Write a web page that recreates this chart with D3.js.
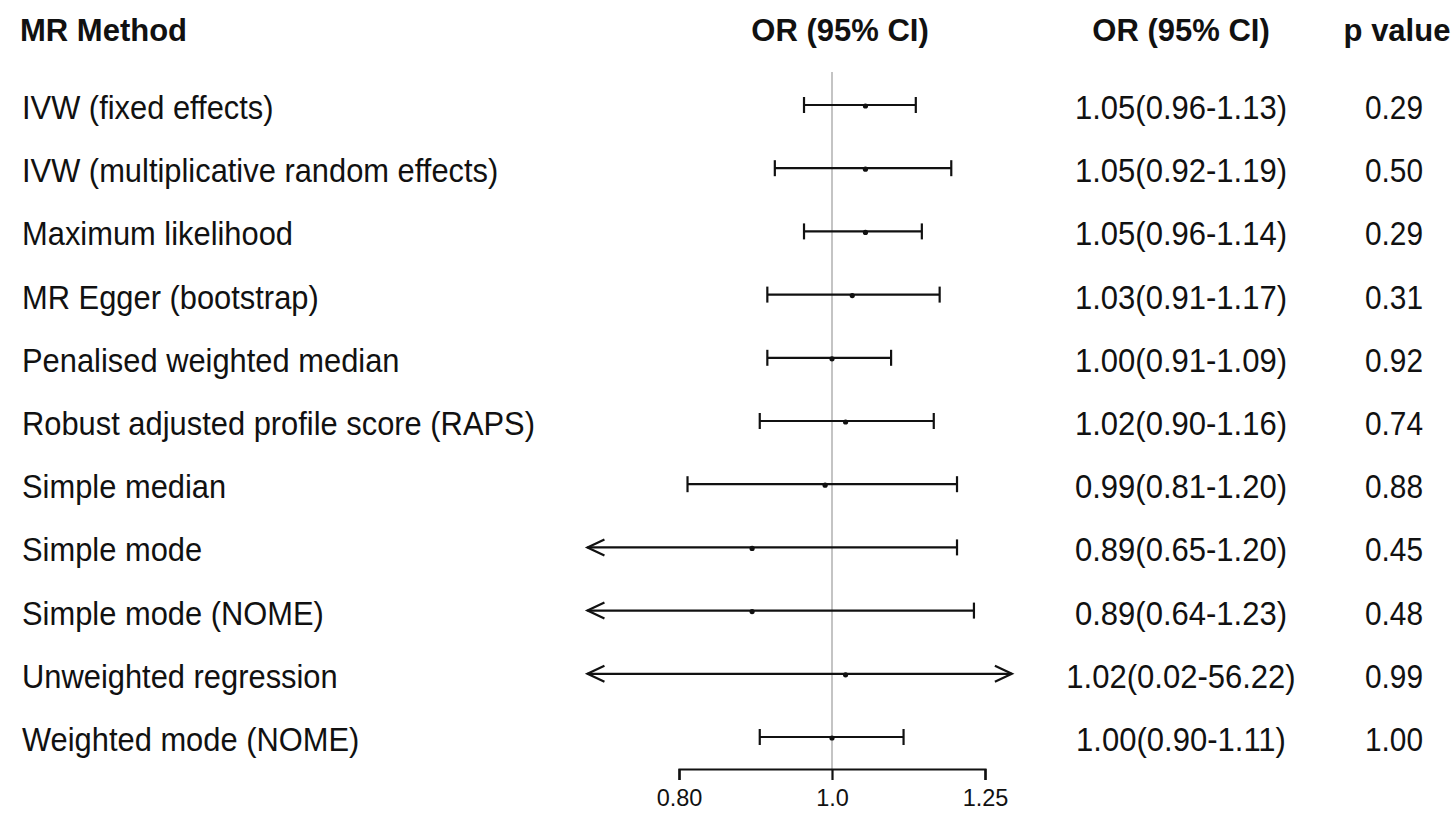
<!DOCTYPE html>
<html>
<head>
<meta charset="utf-8">
<script src="https://cdn.jsdelivr.net/npm/d3@7"></script>
<style>
  html, body { margin: 0; padding: 0; background: #fff; }
  svg { display: block; }
  text { font-family: "Liberation Sans", Arial, sans-serif; fill: #111; }
</style>
</head>
<body>
<svg id="chart" width="1453" height="822"></svg>
<script>
// ---- data ----
const methods = [
  "IVW (fixed effects)",
  "IVW (multiplicative random effects)",
  "Maximum likelihood",
  "MR Egger (bootstrap)",
  "Penalised weighted median",
  "Robust adjusted profile score (RAPS)",
  "Simple median",
  "Simple mode",
  "Simple mode (NOME)",
  "Unweighted regression",
  "Weighted mode (NOME)"
];
const orValues = [1.05, 1.05, 1.05, 1.03, 1.00, 1.02, 0.99, 0.89, 0.89, 1.02, 1.00];
const ciLower  = [0.96, 0.92, 0.96, 0.91, 0.91, 0.90, 0.81, 0.65, 0.64, 0.02, 0.90];
const ciUpper  = [1.13, 1.19, 1.14, 1.17, 1.09, 1.16, 1.20, 1.20, 1.23, 56.22, 1.11];
const orLabels = ["1.05(0.96-1.13)", "1.05(0.92-1.19)", "1.05(0.96-1.14)", "1.03(0.91-1.17)",
  "1.00(0.91-1.09)", "1.02(0.90-1.16)", "0.99(0.81-1.20)", "0.89(0.65-1.20)",
  "0.89(0.64-1.23)", "1.02(0.02-56.22)", "1.00(0.90-1.11)"];
const pValues = ["0.29", "0.50", "0.29", "0.31", "0.92", "0.74", "0.88", "0.45", "0.48", "0.99", "1.00"];
const headers = ["MR Method", "OR (95% CI)", "OR (95% CI)", "p value"];
const tickValues = [0.80, 1.0, 1.25];
const tickLabels = ["0.80", "1.0", "1.25"];
const clipRange = [0.7, 1.3];
const refValue = 1.0;

// ---- layout ----
const svg = d3.select("#chart");
const x = d3.scaleLog().domain([0.80, 1.25]).range([679, 985]);
const y = d3.scalePoint().domain(d3.range(methods.length)).range([105, 737]);
const axisY = 769;
const tr = (px, py, sx) => `translate(${px},${py}) scale(${sx},1)`;

// headers
const headerX = [20, 840, 1181, 1397];
const headerAnchor = ["start", "middle", "middle", "middle"];
svg.selectAll("text.header").data(headers).join("text")
  .attr("class", "header")
  .attr("x", (d, i) => headerX[i])
  .attr("y", 41)
  .attr("text-anchor", (d, i) => headerAnchor[i])
  .attr("font-size", 31)
  .attr("font-weight", "bold")
  .text(d => d);

// reference line
svg.append("line")
  .attr("x1", x(refValue)).attr("x2", x(refValue))
  .attr("y1", 72).attr("y2", axisY)
  .attr("stroke", "#c4c4c4").attr("stroke-width", 2);

// left labels
svg.selectAll("text.method").data(methods).join("text")
  .attr("class", "method")
  .attr("transform", (d, i) => tr(22, y(i) + 14, 0.95))
  .attr("font-size", 32.5)
  .text(d => d);

// OR text
svg.selectAll("text.orl").data(orLabels).join("text")
  .attr("class", "orl")
  .attr("transform", (d, i) => tr(1181, y(i) + 14, 0.955))
  .attr("text-anchor", "middle")
  .attr("font-size", 32.5)
  .text(d => d);

// p values
svg.selectAll("text.pv").data(pValues).join("text")
  .attr("class", "pv")
  .attr("transform", (d, i) => tr(1394, y(i) + 14, 0.89))
  .attr("text-anchor", "middle")
  .attr("font-size", 33.5)
  .text(d => d);

// CI bars
const g = svg.append("g").attr("stroke", "#111").attr("stroke-width", 2.2).attr("fill", "none");
const capH = 8, arrowL = 17, arrowW = 8;
methods.forEach((m, i) => {
  const cy = y(i);
  const lo = Math.max(ciLower[i], clipRange[0]);
  const hi = Math.min(ciUpper[i], clipRange[1]);
  const x1 = x(lo), x2 = x(hi);
  g.append("line").attr("x1", x1).attr("x2", x2).attr("y1", cy).attr("y2", cy);
  if (ciLower[i] < clipRange[0]) {
    g.append("path").attr("d", `M${x1 + arrowL},${cy - arrowW}L${x1},${cy}L${x1 + arrowL},${cy + arrowW}`);
  } else {
    g.append("line").attr("x1", x1).attr("x2", x1).attr("y1", cy - capH).attr("y2", cy + capH);
  }
  if (ciUpper[i] > clipRange[1]) {
    g.append("path").attr("d", `M${x2 - arrowL},${cy - arrowW}L${x2},${cy}L${x2 - arrowL},${cy + arrowW}`);
  } else {
    g.append("line").attr("x1", x2).attr("x2", x2).attr("y1", cy - capH).attr("y2", cy + capH);
  }
});

// points
svg.selectAll("circle.pt").data(orValues).join("circle")
  .attr("class", "pt")
  .attr("cx", d => x(d))
  .attr("cy", (d, i) => y(i) + 1)
  .attr("r", 2.6)
  .attr("fill", "#111");

// axis
const axis = d3.axisBottom(x).tickValues(tickValues).tickFormat((d, i) => tickLabels[i]).tickSizeOuter(0).tickSize(11);
const ax = svg.append("g").attr("transform", `translate(0,${axisY})`).call(axis);
ax.select(".domain").attr("stroke", "#111").attr("stroke-width", 2.2);
ax.selectAll(".tick line").attr("stroke", "#111").attr("stroke-width", 2.2);
ax.selectAll(".tick text")
  .attr("font-family", "'Liberation Sans', Arial, sans-serif")
  .attr("font-size", 23.5)
  .attr("fill", "#111")
  .attr("dy", null)
  .attr("y", 37);
</script>
</body>
</html>
